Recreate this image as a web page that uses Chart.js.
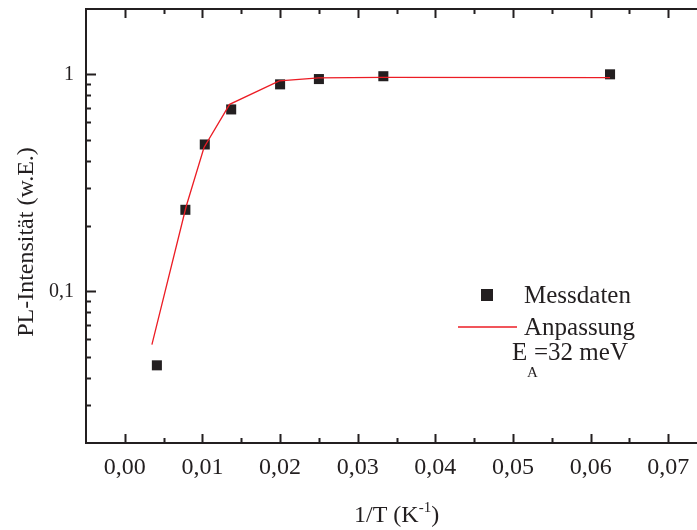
<!DOCTYPE html>
<html>
<head>
<meta charset="utf-8">
<script src="https://cdn.jsdelivr.net/npm/chart.js@4"></script>
<style>
  body { margin: 0; background: #fff; overflow: hidden; }
</style>
</head>
<body>
<canvas id="myChart" width="697" height="530"></canvas>
<script>
// measured points (1/T in K^-1, PL intensity in arb. units)
const messX = [0.00413, 0.0078, 0.0103, 0.0137, 0.0200, 0.0250, 0.0333, 0.0625];
const messY = [0.0456, 0.2375, 0.475, 0.689, 0.899, 0.951, 0.98, 1.0];

// fit curve
const fitX = [0.00349, 0.0079, 0.0102, 0.0135, 0.0199, 0.0250, 0.0333, 0.0625];
const fitY = [0.0568, 0.246, 0.46, 0.727, 0.933, 0.963, 0.969, 0.966];

const xMajor = [0, 0.01, 0.02, 0.03, 0.04, 0.05, 0.06, 0.07];
const xMinor = [0.005, 0.015, 0.025, 0.035, 0.045, 0.055, 0.065];
const yMajor = [0.1, 1];
const yMinor = [0.03, 0.04, 0.05, 0.06, 0.07, 0.08, 0.09, 0.2, 0.3, 0.4, 0.5, 0.6, 0.7, 0.8, 0.9];

const ink = "#231f20";
const red = "#ec1c24";
const serif = "'Liberation Serif', 'Times New Roman', serif";

function noPadding(s) {
    s.paddingLeft = 0;
    s.paddingRight = 0;
    s.paddingTop = 0;
    s.paddingBottom = 0;
}

function init() {
    const canvas = document.getElementById("myChart");

    const framePlugin = {
        id: "frame",
        afterDraw(chart) {
            const ctx = chart.ctx;
            const area = chart.chartArea;
            const xs = chart.scales.x;
            const ys = chart.scales.y;
            ctx.save();
            ctx.strokeStyle = ink;
            ctx.lineWidth = 2;

            // axis lines: left, bottom, top
            ctx.beginPath();
            ctx.moveTo(area.left, area.top);
            ctx.lineTo(area.left, area.bottom);
            ctx.moveTo(area.left - 1, area.bottom);
            ctx.lineTo(area.right, area.bottom);
            ctx.moveTo(area.left - 1, area.top);
            ctx.lineTo(area.right, area.top);
            ctx.stroke();

            // inward ticks
            ctx.beginPath();
            xMajor.forEach(v => {
                const px = Math.round(xs.getPixelForValue(v)) + 0.5;
                ctx.moveTo(px, area.bottom); ctx.lineTo(px, area.bottom - 9);
                ctx.moveTo(px, area.top); ctx.lineTo(px, area.top + 9);
            });
            xMinor.forEach(v => {
                const px = Math.round(xs.getPixelForValue(v)) + 0.5;
                ctx.moveTo(px, area.bottom); ctx.lineTo(px, area.bottom - 5);
                ctx.moveTo(px, area.top); ctx.lineTo(px, area.top + 5);
            });
            yMajor.forEach(v => {
                const py = Math.round(ys.getPixelForValue(v)) + 0.5;
                ctx.moveTo(area.left, py); ctx.lineTo(area.left + 10, py);
            });
            yMinor.forEach(v => {
                const py = Math.round(ys.getPixelForValue(v)) + 0.5;
                ctx.moveTo(area.left, py); ctx.lineTo(area.left + 5, py);
            });
            ctx.stroke();

            ctx.fillStyle = ink;
            ctx.textBaseline = "alphabetic";

            // y title
            ctx.save();
            ctx.font = `24px ${serif}`;
            ctx.translate(33, 242);
            ctx.rotate(-Math.PI / 2);
            ctx.textAlign = "center";
            ctx.fillText("PL-Intensität (w.E.)", 0, 0);
            ctx.restore();

            // x title with superscript
            ctx.textAlign = "left";
            let tx = 354;
            const ty = 522;
            ctx.font = `24px ${serif}`;
            ctx.fillText("1/T (K", tx, ty);
            tx += ctx.measureText("1/T (K").width;
            ctx.font = `15px ${serif}`;
            ctx.fillText("-1", tx, ty - 10);
            tx += ctx.measureText("-1").width;
            ctx.font = `24px ${serif}`;
            ctx.fillText(")", tx, ty);

            // legend
            ctx.fillRect(481, 289, 12, 12);
            ctx.strokeStyle = red;
            ctx.lineWidth = 1.3;
            ctx.beginPath();
            ctx.moveTo(458, 327);
            ctx.lineTo(517, 327);
            ctx.stroke();
            ctx.font = `25px ${serif}`;
            ctx.fillText("Messdaten", 524, 303);
            ctx.fillText("Anpassung", 524, 335);
            ctx.fillText("E", 512, 360);
            ctx.font = `15px ${serif}`;
            ctx.fillText("A", 527, 377);
            ctx.font = `25px ${serif}`;
            ctx.fillText("=32 meV", 534, 360);
            ctx.restore();
        }
    };

    new Chart(canvas, {
        type: "scatter",
        data: {
            datasets: [
                {
                    label: "Anpassung",
                    data: fitX.map((x, i) => ({ x: x, y: fitY[i] })),
                    showLine: true,
                    borderColor: red,
                    borderWidth: 1.3,
                    pointRadius: 0,
                    tension: 0,
                    order: 0
                },
                {
                    label: "Messdaten",
                    data: messX.map((x, i) => ({ x: x, y: messY[i] })),
                    showLine: false,
                    pointStyle: "rect",
                    pointRadius: 7.1,
                    backgroundColor: ink,
                    borderColor: ink,
                    borderWidth: 0,
                    order: 1
                }
            ]
        },
        options: {
            responsive: false,
            animation: false,
            layout: { autoPadding: false, padding: { top: 9, right: 0, left: 0, bottom: 0 } },
            plugins: {
                legend: { display: false },
                tooltip: { enabled: false }
            },
            scales: {
                x: {
                    type: "linear",
                    min: -0.005,
                    max: 0.0737,
                    grid: { display: false, drawTicks: false },
                    border: { display: false },
                    afterBuildTicks: s => { s.ticks = xMajor.map(v => ({ value: v })); },
                    afterFit: s => { s.height = 87; noPadding(s); },
                    ticks: {
                        padding: 10,
                        maxRotation: 0,
                        autoSkip: false,
                        color: ink,
                        font: { family: serif, size: 24 },
                        callback: v => v.toFixed(2).replace(".", ",")
                    }
                },
                y: {
                    type: "logarithmic",
                    min: 0.02,
                    max: 2,
                    grid: { display: false, drawTicks: false },
                    border: { display: false },
                    afterBuildTicks: s => { s.ticks = yMajor.map(v => ({ value: v })); },
                    afterFit: s => { s.width = 86; noPadding(s); },
                    ticks: {
                        padding: 12,
                        autoSkip: false,
                        color: ink,
                        font: { family: serif, size: 20 },
                        callback: v => String(v).replace(".", ",")
                    }
                }
            }
        },
        plugins: [framePlugin]
    });
}

document.addEventListener("DOMContentLoaded", init);
</script>
</body>
</html>
